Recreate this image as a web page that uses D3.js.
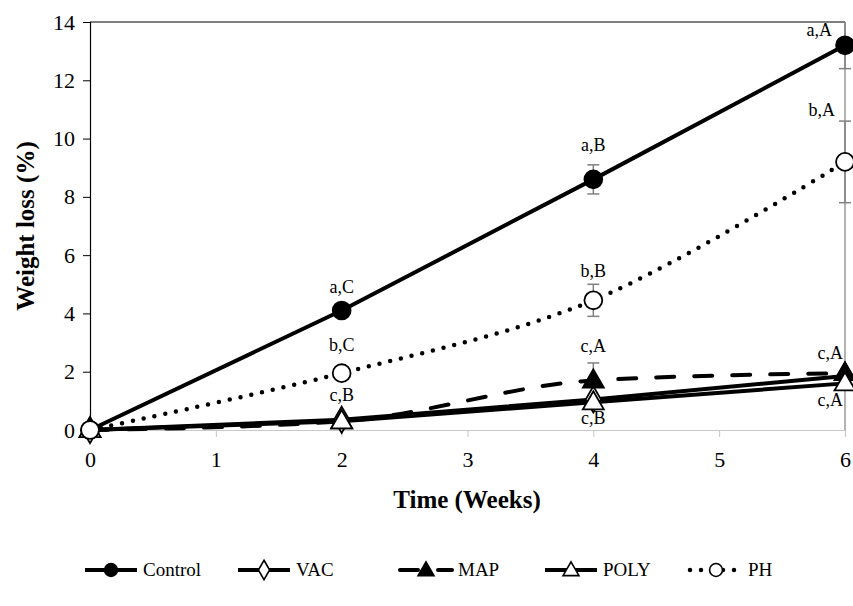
<!DOCTYPE html>
<html>
<head>
<meta charset="utf-8">
<script src="https://cdn.jsdelivr.net/npm/d3@7"></script>
<style>
  body { margin: 0; background: #fff; }
</style>
</head>
<body>
<svg id="chart" width="853" height="606" font-family="'Liberation Serif', 'Times New Roman', Times, 'Nimbus Roman', 'DejaVu Serif', 'Noto Serif', FreeSerif, serif"></svg>
<script>
var weeks = [0, 2, 4, 6];
var control = [0, 4.1, 8.6, 13.2];
var controlErr = [0, 0, 0.5, 0.8];
var vac = [0, 0.35, 1.05, 1.85];
var vacErr = [0, 0, 0, 0];
var map = [0, 0.3, 1.7, 1.95];
var mapErr = [0, 0, 0.6, 0];
var poly = [0, 0.3, 0.95, 1.6];
var polyErr = [0, 0, 0, 0];
var ph = [0, 1.95, 4.45, 9.2];
var phErr = [0, 0, 0.55, 1.4];

var controlLabels = ["", "a,C", "a,B", "a,A"];
var vacLabels = ["", "", "", ""];
var mapLabels = ["", "", "c,A", "c,A"];
var polyLabels = ["", "c,B", "c,B", "c,A"];
var phLabels = ["", "b,C", "b,B", "b,A"];

var yTicks = [0, 2, 4, 6, 8, 10, 12, 14];
var xTicks = [0, 1, 2, 3, 4, 5, 6];

var svg = d3.select("#chart");
var x = d3.scaleLinear().domain([0, 6]).range([90, 845]);
var y = d3.scaleLinear().domain([0, 14]).range([430, 22]);

// series styling, drawn in this order
var series = [
    { name: "Control", values: control, err: controlErr, labels: controlLabels, marker: "circle", fill: "#000", dash: null, cap: "butt", curve: d3.curveLinear,
      labelDy: [0, -18, -28, -9] },
    { name: "VAC", values: vac, err: vacErr, labels: vacLabels, marker: "diamond", fill: "#fff", dash: null, cap: "butt", curve: d3.curveLinear,
      labelDy: [0, 0, 0, 0] },
    { name: "MAP", values: map, err: mapErr, labels: mapLabels, marker: "triangle", fill: "#000", dash: "18,20", cap: "round", curve: d3.curveMonotoneX,
      labelDy: [0, 0, -28, -14] },
    { name: "POLY", values: poly, err: polyErr, labels: polyLabels, marker: "triangle", fill: "#fff", dash: null, cap: "butt", curve: d3.curveLinear,
      labelDy: [0, -20, 22, 23] },
    { name: "PH", values: ph, err: phErr, labels: phLabels, marker: "circle", fill: "#fff", dash: "0,11", cap: "round", curve: d3.curveCatmullRom,
      labelDy: [0, -22, -23, -46] }
];

function markerPath(type, size) {
    if (type == "circle") return d3.symbol().type(d3.symbolCircle).size(size)();
    if (type == "triangle") return d3.symbol().type(d3.symbolTriangle).size(size)();
    return d3.symbol().type(d3.symbolDiamond).size(size)();
}

// axes
var yAxis = svg.append("g").attr("transform", "translate(90,0)")
    .call(d3.axisLeft(y).tickValues(yTicks).tickFormat(d3.format("d")).tickSize(7).tickPadding(8));
yAxis.attr("font-family", null);
yAxis.select(".domain").attr("stroke", "#000").attr("stroke-width", 1.2);
yAxis.selectAll(".tick line").attr("stroke", "#000");
yAxis.selectAll(".tick text").attr("font-size", 22).attr("fill", "#000");

var xAxis = svg.append("g").attr("transform", "translate(0,430)")
    .call(d3.axisBottom(x).tickValues(xTicks).tickFormat(d3.format("d")).tickSize(7).tickPadding(14));
xAxis.attr("font-family", null);
xAxis.select(".domain").attr("stroke", "#c8c8c8").attr("stroke-width", 1.2);
xAxis.selectAll(".tick line").attr("stroke", "#c8c8c8");
xAxis.selectAll(".tick text").attr("font-size", 22).attr("fill", "#000");

// plot frame top and right
svg.append("line").attr("x1", 90).attr("y1", 22).attr("x2", 845).attr("y2", 22).attr("stroke", "#000").attr("stroke-width", 1);
svg.append("line").attr("x1", 845).attr("y1", 22).attr("x2", 845).attr("y2", 430).attr("stroke", "#808080").attr("stroke-width", 1.2);

// axis titles
svg.append("text").attr("transform", "translate(34,226) rotate(-90)").attr("text-anchor", "middle")
    .attr("font-size", 25).attr("font-weight", "bold").text("Weight loss (%)");
svg.append("text").attr("x", 467).attr("y", 508).attr("text-anchor", "middle")
    .attr("font-size", 25).attr("font-weight", "bold").text("Time (Weeks)");

var plot = svg.append("g");

series.forEach(function (s) {
    var pts = weeks.map(function (w, i) { return [x(w), y(s.values[i])]; });
    var line = d3.line().curve(s.curve);
    plot.append("path").attr("d", line(pts)).attr("fill", "none").attr("stroke", "#000")
        .attr("stroke-width", s.name == "PH" ? 4.5 : 4).attr("stroke-dasharray", s.dash).attr("stroke-linecap", s.cap);
});

series.forEach(function (s) {
    weeks.forEach(function (w, i) {
        if (s.err[i] > 0) {
            var cx = x(w);
            var top = Math.min(s.values[i] + s.err[i], 14);
            var bot = s.values[i] - s.err[i];
            plot.append("line").attr("x1", cx).attr("x2", cx).attr("y1", y(top)).attr("y2", y(bot))
                .attr("stroke", "#808080").attr("stroke-width", 1.5);
            [top, bot].forEach(function (v) {
                if (v < 14) {
                    plot.append("line").attr("x1", cx - 6).attr("x2", cx + 6).attr("y1", y(v)).attr("y2", y(v))
                        .attr("stroke", "#808080").attr("stroke-width", 1.5);
                }
            });
        }
    });
});

series.forEach(function (s) {
    var size = s.marker == "circle" ? 250 : (s.marker == "triangle" ? 190 : 200);
    weeks.forEach(function (w, i) {
        plot.append("path").attr("d", markerPath(s.marker, size))
            .attr("transform", "translate(" + x(w) + "," + (y(s.values[i]) + (s.marker == "triangle" ? 1 : 0)) + ")")
            .attr("fill", s.fill).attr("stroke", "#000").attr("stroke-width", 1.8);
    });
});

// point letters
series.forEach(function (s) {
    weeks.forEach(function (w, i) {
        if (!s.labels[i]) return;
        var last = w == 6;
        plot.append("text")
            .attr("x", last ? x(w) - (s.name == "Control" ? 13 : (s.name == "PH" ? 10 : 2)) : x(w))
            .attr("y", y(s.values[i]) + s.labelDy[i])
            .attr("text-anchor", last ? "end" : "middle")
            .attr("font-size", 18).text(s.labels[i]);
    });
});

// legend
var legendX = [85, 238, 400, 545, 690];
var legend = svg.append("g").attr("transform", "translate(0,570)");
series.forEach(function (s, i) {
    var g = legend.append("g").attr("transform", "translate(" + legendX[i] + ",0)");
    g.append("line").attr("x1", 0).attr("x2", 52).attr("y1", 0).attr("y2", 0).attr("stroke", "#000")
        .attr("stroke-width", s.name == "PH" ? 4.5 : 4).attr("stroke-dasharray", s.dash).attr("stroke-linecap", s.cap);
    g.append("path").attr("d", markerPath(s.marker, s.marker == "circle" ? 130 : 110))
        .attr("transform", "translate(26," + (s.marker == "triangle" ? 1 : 0) + ")")
        .attr("fill", s.fill).attr("stroke", "#000").attr("stroke-width", 1.6);
    g.append("text").attr("x", 58).attr("y", 6).attr("font-size", 19).text(s.name);
});
</script>
</body>
</html>
